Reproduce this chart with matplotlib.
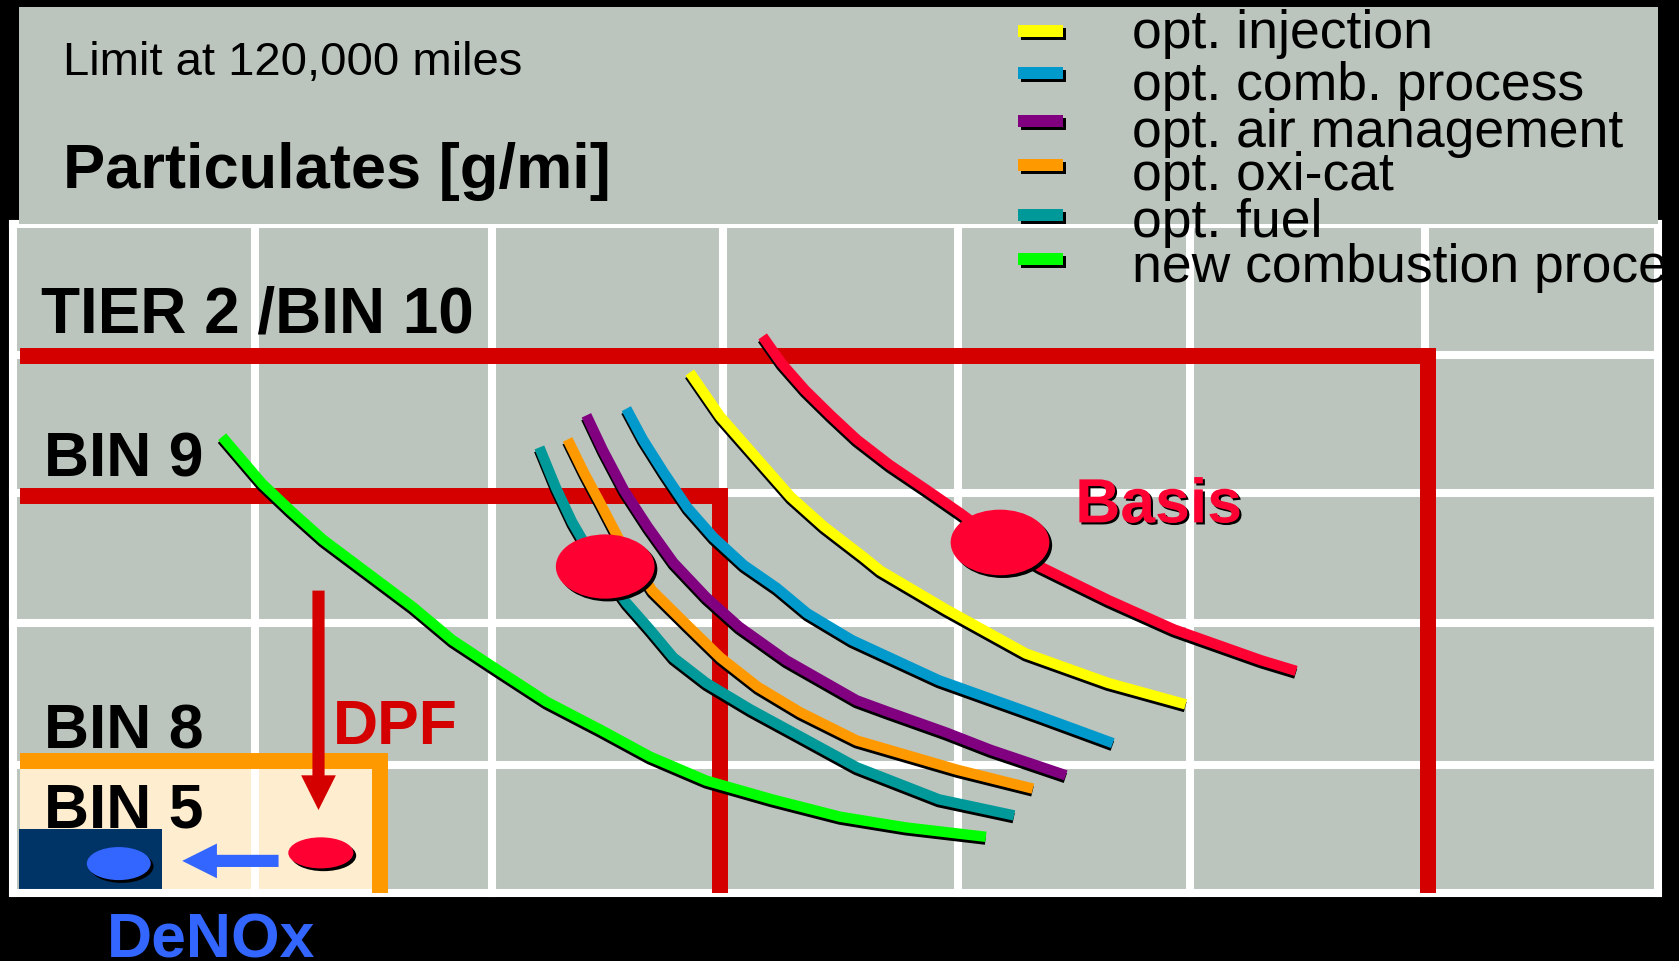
import numpy as np
import matplotlib.pyplot as plt
import matplotlib.patheffects as pe
from matplotlib.patches import Rectangle, Ellipse, FancyArrowPatch, ArrowStyle
from matplotlib.transforms import Bbox, TransformedBbox

plt.rcParams['font.family'] = ['Liberation Sans', 'DejaVu Sans']

# grid lines (NOx / particulates, in grid units)
x_grid = [0, 1.03, 2.04, 3.02, 4.02, 5.01, 6.01, 7]
y_grid = [0, 0.96, 2.02, 2.99, 4.02, 5]

# limit boxes: (NOx limit, PM limit)
tier2_lim = (6.02, 4.01)
bin9_lim = (3.01, 2.97)
bin5_lim = (1.56, 0.99)

# trade-off curves
basis_x = [3.19, 3.27, 3.37, 3.48, 3.59, 3.73, 3.89, 4.03, 4.20, 4.37, 4.66, 4.94, 5.31, 5.46]
basis_y = [4.16, 3.96, 3.76, 3.57, 3.39, 3.20, 3.01, 2.84, 2.62, 2.44, 2.19, 1.97, 1.74, 1.66]
inj_x = [2.88, 3.01, 3.18, 3.31, 3.45, 3.62, 3.69, 3.97, 4.31, 4.66, 4.99]
inj_y = [3.89, 3.56, 3.22, 2.96, 2.74, 2.51, 2.41, 2.12, 1.79, 1.57, 1.41]
comb_x = [2.61, 2.68, 2.77, 2.87, 2.98, 3.11, 3.25, 3.38, 3.57, 3.94, 4.37, 4.68]
comb_y = [3.62, 3.39, 3.14, 2.88, 2.66, 2.45, 2.28, 2.09, 1.89, 1.59, 1.32, 1.12]
air_x = [2.44, 2.51, 2.60, 2.70, 2.81, 2.95, 3.09, 3.29, 3.46, 3.59, 3.73, 3.97, 4.16, 4.48]
air_y = [3.57, 3.31, 3.01, 2.74, 2.47, 2.21, 1.99, 1.74, 1.57, 1.44, 1.35, 1.20, 1.07, 0.88]
oxi_x = [2.36, 2.43, 2.50, 2.58, 2.72, 2.87, 3.01, 3.17, 3.35, 3.59, 4.02, 4.34]
oxi_y = [3.39, 3.14, 2.91, 2.64, 2.26, 2.00, 1.76, 1.54, 1.35, 1.14, 0.92, 0.78]
fuel_x = [2.24, 2.31, 2.38, 2.44, 2.61, 2.71, 2.81, 2.95, 3.14, 3.35, 3.59, 3.94, 4.26]
fuel_y = [3.33, 3.03, 2.77, 2.59, 2.17, 1.97, 1.76, 1.57, 1.37, 1.17, 0.94, 0.70, 0.58]
newc_x = [0.89, 1.06, 1.18, 1.32, 1.51, 1.70, 1.87, 2.06, 2.27, 2.50, 2.71, 2.95, 3.23, 3.52, 3.80, 4.14]
newc_y = [3.41, 3.06, 2.86, 2.64, 2.39, 2.14, 1.89, 1.67, 1.43, 1.22, 1.02, 0.84, 0.70, 0.57, 0.49, 0.42]

legend_labels = ['opt. injection', 'opt. comb. process', 'opt. air management',
                 'opt. oxi-cat', 'opt. fuel', 'new combustion process']
legend_colors = ['#FFFF00', '#0099CC', '#800080', '#FF9900', '#009999', '#00FF00']

# operating points
basis_pt = (4.20, 2.62)
combo_pt = (2.52, 2.44)
dpf_pt = (1.31, 0.30)
denox_pt = (0.45, 0.22)

# arrows
dpf_arrow_x = [1.30, 1.30]
dpf_arrow_y = [2.26, 0.62]
denox_arrow_x = [1.13, 0.72]
denox_arrow_y = [0.24, 0.24]

W, H = 1679, 961
GRAY = '#BCC5BD'
LIMIT_RED = '#D40000'
BASIS_RED = '#FF0033'
BLUE = '#3366FF'

fig = plt.figure(figsize=(W / 100, H / 100), dpi=100, facecolor='black')

# header panel
fig.patches.append(Rectangle((19 / W, 1 - 224 / H), (1658 - 19) / W, (224 - 7) / H,
                             transform=fig.transFigure, facecolor=GRAY, edgecolor='none', zorder=0))

ax = fig.add_axes([13 / W, 1 - 893 / H, (1658 - 13) / W, (893 - 224) / H])
ax.set_xlim(0, 7)
ax.set_ylim(0, 5)
ax.set_facecolor(GRAY)
ax.axis('off')
ax.add_patch(Rectangle((0, 0), 7, 5, facecolor=GRAY, edgecolor='none', zorder=0))

# BIN 5 area and DeNOx box
ax.add_patch(Rectangle((0.03, 0), bin5_lim[0] - 0.03, bin5_lim[1], facecolor='#FFEDCF',
                       edgecolor='none', zorder=1))
ax.add_patch(Rectangle((0.026, 0.03), 0.608, 0.45, facecolor='#003366', edgecolor='none', zorder=1.5))

for gx in x_grid:
    ax.axvline(gx, color='white', lw=5.8, zorder=2, clip_on=False)
for gy in y_grid:
    ax.axhline(gy, color='white', lw=5.8, zorder=2, clip_on=False)

# limit lines
ax.plot([0.03, tier2_lim[0], tier2_lim[0]], [tier2_lim[1], tier2_lim[1], 0.0],
        color=LIMIT_RED, lw=11.5, solid_joinstyle='miter', solid_capstyle='butt', zorder=3)
ax.plot([0.03, bin9_lim[0], bin9_lim[0]], [bin9_lim[1], bin9_lim[1], 0.0],
        color=LIMIT_RED, lw=11.5, solid_joinstyle='miter', solid_capstyle='butt', zorder=3)
ax.plot([0.03, bin5_lim[0], bin5_lim[0]], [bin5_lim[1], bin5_lim[1], 0.0],
        color='#FF9900', lw=11.5, solid_joinstyle='miter', solid_capstyle='butt', zorder=3)

shadow = [pe.SimpleLineShadow(offset=(-0.3, -2.0), shadow_color='k', alpha=1), pe.Normal()]
curves = [(newc_x, newc_y, legend_colors[5]), (fuel_x, fuel_y, legend_colors[4]),
          (oxi_x, oxi_y, legend_colors[3]), (air_x, air_y, legend_colors[2]),
          (comb_x, comb_y, legend_colors[1]), (inj_x, inj_y, legend_colors[0]),
          (basis_x, basis_y, BASIS_RED)]
for cx, cy, col in curves:
    ax.plot(cx, cy, color=col, lw=7.5, solid_capstyle='butt', solid_joinstyle='round',
            zorder=4, path_effects=shadow)

pshadow = [pe.SimplePatchShadow(offset=(2, -2), shadow_rgbFace='k', alpha=1), pe.Normal()]
ax.add_patch(Ellipse(basis_pt, 0.42, 0.49, facecolor=BASIS_RED, edgecolor='none',
                     zorder=5, path_effects=pshadow))
ax.add_patch(Ellipse(combo_pt, 0.42, 0.48, facecolor=BASIS_RED, edgecolor='none',
                     zorder=5, path_effects=pshadow))
ax.add_patch(Ellipse(dpf_pt, 0.277, 0.232, facecolor=BASIS_RED, edgecolor='none',
                     zorder=5, path_effects=pshadow))
ax.add_patch(Ellipse(denox_pt, 0.272, 0.247, facecolor=BLUE, edgecolor='none',
                     zorder=5, path_effects=pshadow))

ax.add_patch(FancyArrowPatch((dpf_arrow_x[0], dpf_arrow_y[0]), (dpf_arrow_x[1], dpf_arrow_y[1]),
                             arrowstyle=ArrowStyle.Simple(head_length=1.0, head_width=1.0, tail_width=0.35),
                             mutation_scale=25, shrinkA=0, shrinkB=0, color=LIMIT_RED, lw=0, zorder=6))
ax.add_patch(FancyArrowPatch((denox_arrow_x[0], denox_arrow_y[0]), (denox_arrow_x[1], denox_arrow_y[1]),
                             arrowstyle=ArrowStyle.Simple(head_length=1.0, head_width=1.0, tail_width=0.35),
                             mutation_scale=25, shrinkA=0, shrinkB=0, color=BLUE, lw=0, zorder=6))

bold = dict(fontsize=45, fontweight='bold', va='baseline', zorder=7)
ax.text(0.12, 4.19, 'TIER 2 /BIN 10', color='black', fontsize=46, fontweight='bold',
        va='baseline', zorder=7)
ax.text(0.13, 3.11, 'BIN 9', color='black', **bold)
ax.text(0.13, 1.08, 'BIN 8', color='black', **bold)
ax.text(0.13, 0.49, 'BIN 5', color='black', **bold)
ax.text(1.36, 1.11, 'DPF', color=LIMIT_RED, **bold)
ax.text(4.52, 2.77, 'Basis', color=BASIS_RED,
        path_effects=[pe.withSimplePatchShadow(offset=(1.5, -1.5), shadow_rgbFace='k', alpha=1)], **bold)
ax.text(0.40, -0.48, 'DeNOx', color=BLUE, clip_on=False, **bold)

# header texts
fig.text(63 / W, 1 - 75 / H, 'Limit at 120,000 miles', fontsize=34, va='baseline')
fig.text(63 / W, 1 - 188 / H, 'Particulates [g/mi]', fontsize=45.5, fontweight='bold', va='baseline')

# legend
clip = TransformedBbox(Bbox.from_extents(0, 0, 1662 / W, 1), fig.transFigure)
patch_centers = [31, 73, 121, 165, 215, 259]
label_baselines = [48, 100, 147, 190, 237, 282]
for lab, col, pc, bl in zip(legend_labels, legend_colors, patch_centers, label_baselines):
    fig.patches.append(Rectangle((1018 / W, 1 - (pc + 6) / H), 45 / W, 12 / H,
                                 transform=fig.transFigure, facecolor=col, edgecolor='none',
                                 zorder=2, path_effects=pshadow))
    t = fig.text(1132 / W, 1 - bl / H, lab, fontsize=38.5, va='baseline', zorder=5)
    t.set_clip_box(clip)
    t.set_clip_on(True)

fig.savefig('out.png', dpi=100, facecolor='black')
